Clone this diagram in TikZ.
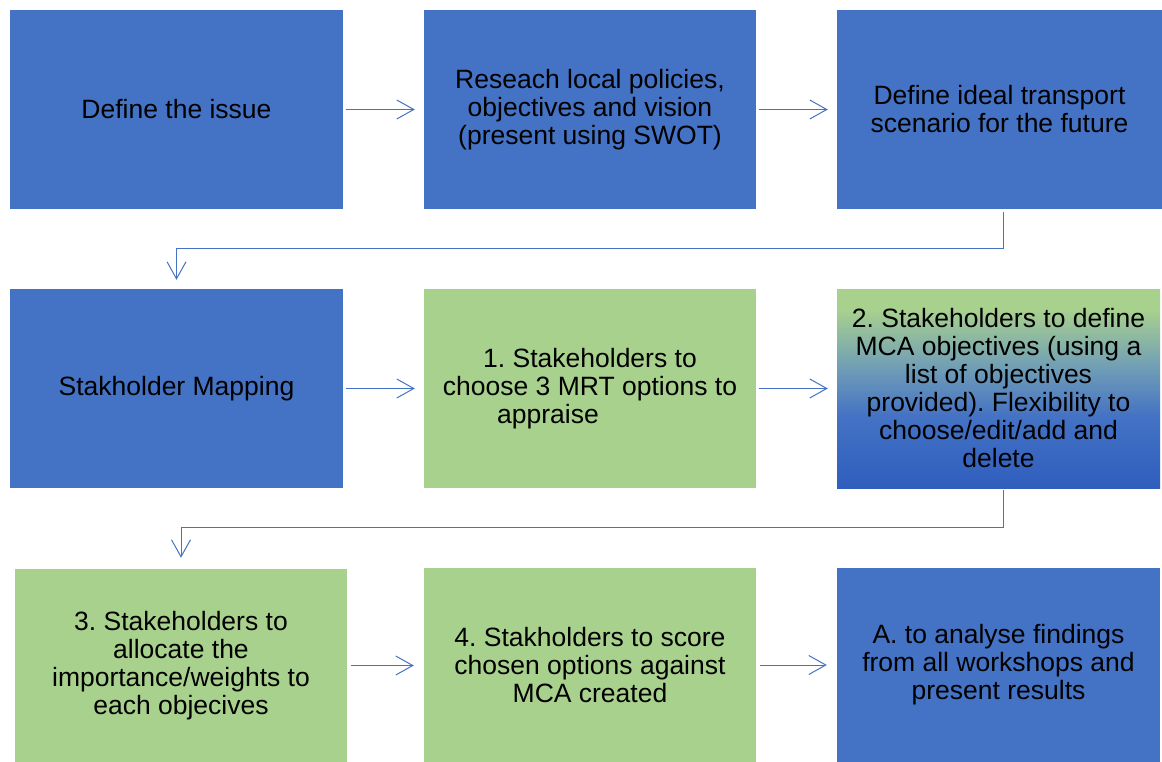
\documentclass[tikz,border=0pt]{standalone}
\usepackage{fontspec}
\setmainfont{Liberation Sans}
\frenchspacing
\usetikzlibrary{arrows.meta}
\definecolor{boxblue}{HTML}{4472C4}
\definecolor{boxgreen}{HTML}{A9D18E}
\definecolor{gbot}{HTML}{2F5EBE}
\definecolor{gmid}{HTML}{6F9DB6}
\pgfdeclareverticalshading{greenblue}{100bp}{color(0bp)=(gbot); color(25bp)=(gbot); color(43bp)=(boxblue); color(55bp)=(gmid); color(70bp)=(boxgreen); color(100bp)=(boxgreen)}
\tikzset{
  box/.style={rectangle, inner sep=0pt, align=center, text=black,
    font=\fontsize{26.5}{28}\selectfont\frenchspacing},
  bluebox/.style={box, fill=boxblue},
  greenbox/.style={box, fill=boxgreen},
  gradbox/.style={box, shading=greenblue},
  arr/.style={draw=boxblue, line width=1pt, -{Straight Barb[length=17pt,width=19pt,line width=1pt]}}
}
\begin{document}
\begin{tikzpicture}[x=1pt,y=-1pt]
\useasboundingbox (0,0) rectangle (1162,762);
% row 1
\node[bluebox, minimum width=333pt, minimum height=199pt] (b1) at (176.5,109.5) {Define the issue};
\node[bluebox, minimum width=332pt, minimum height=199pt] (b2) at (590,109.5) {Reseach local policies,\\objectives and vision\\(present using SWOT)};
\node[bluebox, minimum width=325pt, minimum height=199pt] (b3) at (999.5,109.5) {Define ideal transport\\scenario for the future};
% row 2
\node[bluebox, minimum width=333pt, minimum height=199pt] (b4) at (176.5,388.5) {Stakholder Mapping};
\node[greenbox, minimum width=332pt, minimum height=199pt] (b5) at (590,388.5) {1. Stakeholders to\\choose 3 MRT options to\\appraise\hspace{84pt}\mbox{}};
\node[gradbox, minimum width=323pt, minimum height=199pt] (b6) at (998.5,388.5) {2. Stakeholders to define\\MCA objectives (using a\\list of objectives\\provided). Flexibility to\\choose/edit/add and\\delete};
% row 3
\node[greenbox, minimum width=332pt, minimum height=193pt] (b7) at (181,665.5) {3. Stakeholders to\\allocate the\\importance/weights to\\each objecives};
\node[greenbox, minimum width=332pt, minimum height=194pt] (b8) at (590,665) {4. Stakholders to score\\chosen options against\\MCA created};
\node[bluebox, minimum width=323pt, minimum height=194pt] (b9) at (998.5,665) {A. to analyse findings\\from all workshops and\\present results};
% connectors
\draw[arr, shorten <=3pt, shorten >=9pt] (b1) -- (b2);
\draw[arr, shorten <=3pt, shorten >=9pt] (b2) -- (b3);
\draw[arr, shorten <=3pt, shorten >=9pt] (b4) -- (b5);
\draw[arr, shorten <=3pt, shorten >=9pt] (b5) -- (b6);
\draw[arr, shorten <=4pt, shorten >=10pt] (b7.east) -- (b8.west |- b7.east);
\draw[arr, shorten <=4pt, shorten >=10pt] (b8) -- (b9);
\draw[arr, shorten <=3pt, shorten >=9pt] ([xshift=3.5pt]b3.south) |- ([yshift=40pt]b4.north) -- (b4.north);
\draw[arr, shorten <=2pt, shorten >=11pt] ([xshift=4.5pt]b6.south) |- ([yshift=41pt]b7.north) -- (b7.north);
\end{tikzpicture}
\end{document}
